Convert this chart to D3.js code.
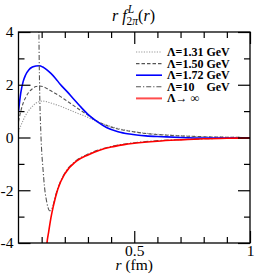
<!DOCTYPE html>
<html>
<head>
<meta charset="utf-8">
<script src="https://cdn.jsdelivr.net/npm/d3@7"></script>
<style>
body { margin: 0; background: #fff; }
svg { font-family: "Liberation Serif", "DejaVu Serif", serif; }
</style>
</head>
<body>
<script>
// radial grid for the three finite cutoffs (fm)
var rA = [0, 0.01, 0.02, 0.03, 0.045, 0.06, 0.075, 0.09, 0.105, 0.12, 0.14, 0.16, 0.18, 0.21, 0.24, 0.27, 0.3, 0.34, 0.38, 0.43, 0.48, 0.55, 0.62, 0.7, 0.8, 0.9, 1.0];
var f131 = [0.22, 0.45, 0.65, 0.83, 1.03, 1.18, 1.3, 1.36, 1.38, 1.36, 1.31, 1.25, 1.19, 1.08, 0.97, 0.87, 0.76, 0.6, 0.47, 0.34, 0.25, 0.16, 0.11, 0.07, 0.03, 0.01, 0.0];
var f150 = [0.6, 1.0, 1.3, 1.5, 1.72, 1.85, 1.93, 1.95, 1.93, 1.87, 1.77, 1.67, 1.56, 1.38, 1.2, 1.02, 0.85, 0.62, 0.46, 0.32, 0.24, 0.15, 0.1, 0.06, 0.03, 0.01, 0.0];
var f172 = [1.0, 1.7, 2.12, 2.36, 2.57, 2.67, 2.71, 2.72, 2.67, 2.58, 2.43, 2.24, 2.02, 1.74, 1.44, 1.15, 0.88, 0.6, 0.38, 0.22, 0.13, 0.06, 0.03, 0.0, -0.02, -0.02, -0.02];

// Lambda = 10 GeV
var r10 = [0.086, 0.088, 0.091, 0.096, 0.1, 0.105, 0.112, 0.12, 0.127, 0.134, 0.141, 0.148, 0.16, 0.18, 0.2, 0.25, 0.3, 0.35, 0.4, 0.5, 0.6, 0.7, 0.8, 0.9, 1.0];
var f10 = [7, 4.2, 2.0, 0.3, -0.5, -1.1, -1.85, -2.35, -2.64, -2.78, -2.75, -2.62, -2.2, -1.7, -1.35, -0.87, -0.63, -0.46, -0.34, -0.2, -0.12, -0.08, -0.05, -0.03, -0.02];

// Lambda -> infinity
var rInf = [0.12, 0.123, 0.13, 0.14, 0.15, 0.17, 0.2, 0.25, 0.3, 0.35, 0.4, 0.45, 0.5, 0.6, 0.7, 0.8, 0.9, 1.0];
var fInf = [-4.3, -4.0, -3.6, -3.05, -2.62, -1.95, -1.38, -0.9, -0.66, -0.48, -0.36, -0.28, -0.22, -0.14, -0.09, -0.05, -0.03, -0.02];

var legendNames = ["Λ=1.31 GeV", "Λ=1.50 GeV", "Λ=1.72 GeV", "Λ=10    GeV", "Λ→ ∞"];
var xMajor = [0.5, 1];
var xMinor = [0.1, 0.2, 0.3, 0.4, 0.6, 0.7, 0.8, 0.9];
var yMajor = [-4, -2, 0, 2, 4];
var yMinor = [-3, -1, 1, 3];

var W = 256, H = 277;
var L = 18.5, R = 250, T = 32, B = 243;

var svg = d3.select('body').append('svg').attr('width', W).attr('height', H);

var x = d3.scaleLinear().domain([0, 1]).range([L, R]);
var y = d3.scaleLinear().domain([-4, 4]).range([B, T]);

svg.append('clipPath').attr('id', 'clip')
  .append('rect').attr('x', L).attr('y', T).attr('width', R - L).attr('height', B - T);

function zip(rs, fs) {
  return rs.map(function(r, i) { return [r, fs[i]]; });
}

var line = d3.line()
  .x(function(d) { return x(d[0]); })
  .y(function(d) { return y(d[1]); })
  .curve(d3.curveMonotoneX);

var series = [
  { data: zip(rA, f131), color: '#999', width: 1.1, dash: '1.2,1.4' },
  { data: zip(rA, f150), color: '#555', width: 1.1, dash: '3.5,2' },
  { data: zip(rA, f172), color: '#0000ff', width: 1.6, dash: null },
  { data: zip(r10, f10), color: '#555', width: 1.1, dash: '5,2,1.2,2' },
  { data: zip(rInf, fInf), color: '#ff0000', width: 1.6, dash: null }
];

var plot = svg.append('g').attr('clip-path', 'url(#clip)');
plot.selectAll('path')
  .data(series)
  .enter()
  .append('path')
  .attr('d', function(d) { return line(d.data); })
  .attr('fill', 'none')
  .attr('stroke', function(d) { return d.color; })
  .attr('stroke-width', function(d) { return d.width; })
  .attr('stroke-dasharray', function(d) { return d.dash; });

// frame
svg.append('rect')
  .attr('x', L).attr('y', T).attr('width', R - L).attr('height', B - T)
  .attr('fill', 'none').attr('stroke', '#000').attr('stroke-width', 1.3);

function styleAxis(g) {
  g.select('.domain').remove();
  g.selectAll('line').attr('stroke', '#000').attr('stroke-width', 1.2);
}
function label(d) { return String(d); }

// bottom axis
svg.append('g').attr('transform', 'translate(0,' + B + ')')
  .call(d3.axisBottom(x).tickValues(xMinor).tickSize(-6).tickFormat(''))
  .call(styleAxis);
svg.append('g').attr('transform', 'translate(0,' + B + ')')
  .call(d3.axisBottom(x).tickValues(xMajor).tickSize(-12).tickPadding(1.5).tickFormat(label))
  .call(styleAxis)
  .selectAll('text').attr('font-size', 15.5).attr('fill', '#000').attr('font-family', '"Liberation Serif", serif');
// top axis
svg.append('g').attr('transform', 'translate(0,' + T + ')')
  .call(d3.axisTop(x).tickValues(xMinor).tickSize(-6).tickFormat(''))
  .call(styleAxis);
svg.append('g').attr('transform', 'translate(0,' + T + ')')
  .call(d3.axisTop(x).tickValues(xMajor).tickSize(-12).tickFormat(''))
  .call(styleAxis);

// left axis
svg.append('g').attr('transform', 'translate(' + L + ',0)')
  .call(d3.axisLeft(y).tickValues(yMinor).tickSize(-6).tickFormat(''))
  .call(styleAxis);
svg.append('g').attr('transform', 'translate(' + L + ',0)')
  .call(d3.axisLeft(y).tickValues(yMajor).tickSize(-12).tickPadding(5).tickFormat(label))
  .call(styleAxis)
  .selectAll('text').attr('font-size', 15.5).attr('fill', '#000').attr('font-family', '"Liberation Serif", serif');
// right axis
svg.append('g').attr('transform', 'translate(' + R + ',0)')
  .call(d3.axisRight(y).tickValues(yMinor).tickSize(-6).tickFormat(''))
  .call(styleAxis);
svg.append('g').attr('transform', 'translate(' + R + ',0)')
  .call(d3.axisRight(y).tickValues(yMajor).tickSize(-12).tickFormat(''))
  .call(styleAxis);

// title  r f^L_{2pi}(r)
var title = svg.append('text').attr('x', 112).attr('y', 20.5).attr('font-size', 16);
title.append('tspan').attr('font-style', 'italic').text('r f');
title.append('tspan').attr('font-style', 'italic').attr('font-size', 11.5).attr('dx', 1).attr('dy', -8).text('L');
title.append('tspan').attr('font-size', 11.5).attr('dx', -7.5).attr('dy', 12.5).text('2');
title.append('tspan').attr('font-size', 11.5).attr('font-style', 'italic').text('π');
title.append('tspan').attr('dy', -4.5).text('(');
title.append('tspan').attr('font-style', 'italic').text('r');
title.append('tspan').text(')');

// x label
var xl = svg.append('text').attr('x', x(0.5)).attr('y', 269.5)
  .attr('text-anchor', 'middle').attr('font-size', 15.5);
xl.append('tspan').attr('font-style', 'italic').text('r');
xl.append('tspan').text(' (fm)');

// legend
var leg = svg.append('g');
var rowY = function(i) { return 52 + i * 11.6; };
leg.selectAll('line')
  .data(series)
  .enter()
  .append('line')
  .attr('x1', 136).attr('x2', 162)
  .attr('y1', function(d, i) { return rowY(i); })
  .attr('y2', function(d, i) { return rowY(i); })
  .attr('stroke', function(d) { return d.color; })
  .attr('stroke-width', function(d, i) { return i === 4 ? 2 : d.width; })
  .attr('stroke-opacity', function(d, i) { return i === 4 ? 0.7 : 1; })
  .attr('stroke-dasharray', function(d) { return d.dash; });
leg.selectAll('text')
  .data(legendNames)
  .enter()
  .append('text')
  .attr('x', 167)
  .attr('y', function(d, i) { return rowY(i) + 4; })
  .attr('font-size', 12)
  .attr('font-weight', 'bold')
  .style('white-space', 'pre')
  .text(function(d) { return d; });
</script>
</body>
</html>
